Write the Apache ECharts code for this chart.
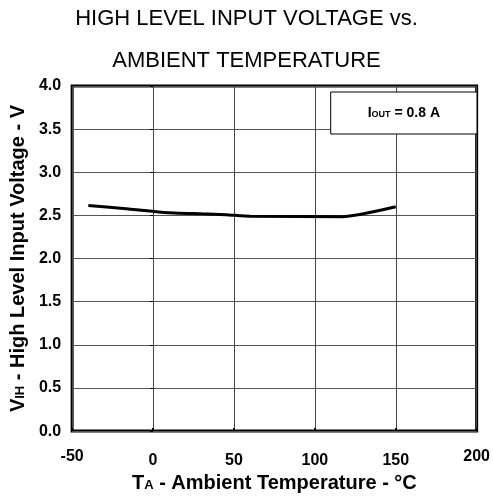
<!DOCTYPE html>
<html>
<head>
<meta charset="utf-8">
<script src="https://cdn.jsdelivr.net/npm/echarts@6/dist/echarts.min.js"></script>
<style>
html,body{margin:0;padding:0;background:#fff;}
#c{width:493px;height:498px;}
</style>
</head>
<body>
<div id="c"></div>
<script>
// Data
var temperatures = [-40, -15, 7, 30, 45, 60, 117, 150];
var voltages = [2.614, 2.575, 2.535, 2.518, 2.508, 2.490, 2.485, 2.600];
var seriesName = 'IOUT = 0.8 A';
var xTicks = [-50, 0, 50, 100, 150, 200];
var yTicks = [0.0, 0.5, 1.0, 1.5, 2.0, 2.5, 3.0, 3.5, 4.0];
var titleLines = ['HIGH LEVEL INPUT VOLTAGE vs.', 'AMBIENT TEMPERATURE'];

var FONT = "'Liberation Sans', Arial, Helvetica, sans-serif";
var points = temperatures.map(function (t, i) { return [t, voltages[i]]; });

var chart = echarts.init(document.getElementById('c'), null, {renderer: 'canvas'});
chart.setOption({
  backgroundColor: '#fff',
  animation: false,
  title: [
    {text: titleLines[0], left: 'center', top: 8, padding: [0, 0, 0, 52],
     textStyle: {fontFamily: FONT, fontSize: 22, fontWeight: 'normal', color: '#000'}},
    {text: titleLines[1], left: 'center', top: 50, padding: [0, 0, 0, 56],
     textStyle: {fontFamily: FONT, fontSize: 22, fontWeight: 'normal', color: '#000'}}
  ],
  legend: {
    data: [{name: seriesName, icon: 'none'}],
    right: 16, top: 92,
    itemWidth: 0, itemHeight: 0,
    padding: [14, 37, 14, 32],
    borderColor: '#000', borderWidth: 1,
    backgroundColor: '#fff',
    selectedMode: false,
    formatter: function () { return '{b|I}{s|OUT}{b| = 0.8 A}'; },
    textStyle: {
      fontFamily: FONT, fontWeight: 'bold', fontSize: 14, color: '#000',
      rich: {
        b: {fontFamily: FONT, fontWeight: 'bold', fontSize: 14, color: '#000', lineHeight: 16, verticalAlign: 'bottom'},
        s: {fontFamily: FONT, fontWeight: 'bold', fontSize: 9, color: '#000', lineHeight: 16, verticalAlign: 'bottom', padding: [0, 0, 1, 0]}
      }
    }
  },
  grid: {left: 69, right: 16, top: 86, bottom: 60, show: true, borderColor: '#000', borderWidth: 3, backgroundColor: 'transparent'},
  xAxis: {
    type: 'value', min: xTicks[0], max: xTicks[xTicks.length - 1], interval: 50,
    axisLine: {show: false},
    axisTick: {show: true, inside: true, length: 3, lineStyle: {color: '#000', width: 2}},
    splitLine: {show: true, lineStyle: {color: '#444', width: 1}},
    axisLabel: {
      margin: 17,
      formatter: function (v) {
        return (v === xTicks[0] || v === xTicks[xTicks.length - 1]) ? '{h|' + v + '}' : '{n|' + v + '}';
      },
      rich: {
        h: {fontFamily: FONT, fontWeight: 'bold', fontSize: 16, color: '#000'},
        n: {fontFamily: FONT, fontWeight: 'bold', fontSize: 16, color: '#000', padding: [4, 0, 0, 0]}
      }
    },
    name: '{b|T}{s|A}{b| - Ambient Temperature - °C}',
    nameLocation: 'middle', nameGap: 36,
    nameTextStyle: {
      rich: {
        b: {fontFamily: FONT, fontWeight: 'bold', fontSize: 20, color: '#000', lineHeight: 22, verticalAlign: 'bottom'},
        s: {fontFamily: FONT, fontWeight: 'bold', fontSize: 13, color: '#000', lineHeight: 22, verticalAlign: 'bottom', padding: [0, 0, 1, 0]}
      }
    }
  },
  yAxis: {
    type: 'value', min: yTicks[0], max: yTicks[yTicks.length - 1], interval: 0.5,
    axisLine: {show: false},
    axisTick: {show: true, inside: false, length: 3, lineStyle: {color: '#000', width: 1}},
    splitLine: {show: true, lineStyle: {color: '#555', width: 1}},
    axisLabel: {
      margin: 11,
      fontFamily: FONT, fontWeight: 'bold', fontSize: 16, color: '#000',
      formatter: function (v) { return v.toFixed(1); }
    },
    name: '{b|V}{s|IH}{b| - High Level Input Voltage - V}',
    nameLocation: 'middle', nameGap: 42,
    nameTextStyle: {
      rich: {
        b: {fontFamily: FONT, fontWeight: 'bold', fontSize: 20, color: '#000', lineHeight: 22, verticalAlign: 'bottom'},
        s: {fontFamily: FONT, fontWeight: 'bold', fontSize: 13, color: '#000', lineHeight: 22, verticalAlign: 'bottom', padding: [0, 0, 1, 0]}
      }
    }
  },
  series: [{
    name: seriesName,
    type: 'line',
    data: points,
    showSymbol: false,
    symbol: 'none',
    smooth: 0.2,
    lineStyle: {color: '#000', width: 3},
    itemStyle: {color: '#000'}
  }]
});
</script>
</body>
</html>
